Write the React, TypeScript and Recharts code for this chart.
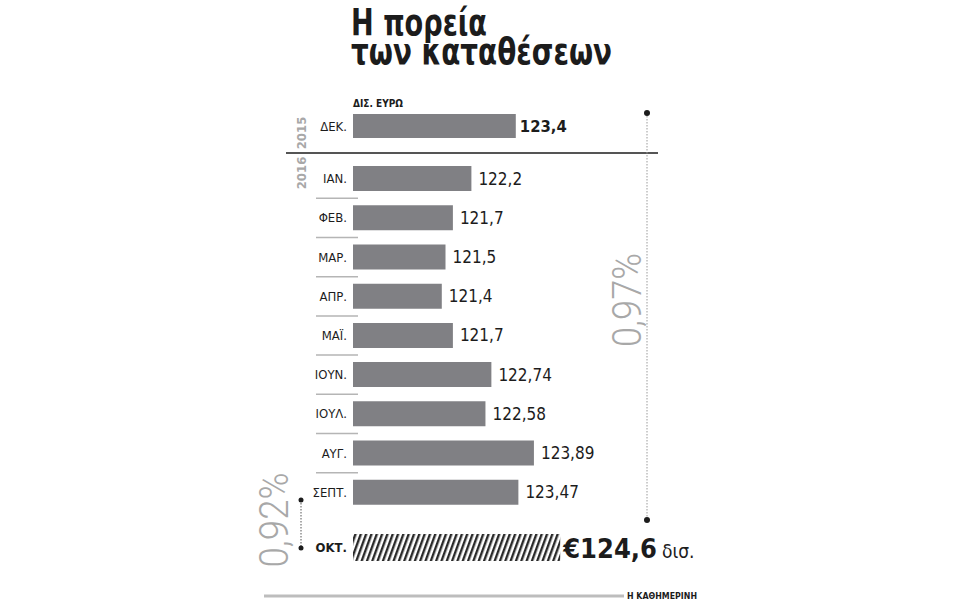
import React from 'react';
import { BarChart, Bar, XAxis, YAxis, LabelList } from 'recharts';

const monthsPrev = ['ΔΕΚ.'];
const valuesPrev = [123.4];
const months2016 = ['ΙΑΝ.', 'ΦΕΒ.', 'ΜΑΡ.', 'ΑΠΡ.', 'ΜΑΪ.', 'ΙΟΥΝ.', 'ΙΟΥΛ.', 'ΑΥΓ.', 'ΣΕΠΤ.'];
const values2016 = [122.2, 121.7, 121.5, 121.4, 121.7, 122.74, 122.58, 123.89, 123.47];
const monthsLatest = ['ΟΚΤ.'];
const valuesLatest = [124.6];

const FONT = "'Liberation Sans Narrow', 'DejaVu Sans Condensed', 'Roboto', sans-serif";
const LIGHT_FONT = "Roboto, 'Open Sans', sans-serif";
const BAR = '#808084';
const INK = '#1c1c1c';
const GREY_TEXT = '#a8a8a8';

const DOMAIN: [number, number] = [119, 126];
const CHART_LEFT = 293;
const AXIS_W = 60;
const PLOT_W = 259;

const fmt = (v: number) => String(v).replace('.', ',');
const pct = (a: number, b: number) => fmt(Number((((b - a) / a) * 100).toFixed(2))) + '%';

const toRows = (months: string[], values: number[]) =>
  months.map((month, i) => ({ month, value: values[i] }));

function MonthTick(props: any) {
  const { x, y, payload, index, bandHalf, count, bold, separators } = props;
  const lx1 = 316 - CHART_LEFT;
  const lx2 = 358 - CHART_LEFT;
  const last = index === count - 1;
  return (
    <g>
      <text
        x={x}
        y={y}
        textAnchor="end"
        dominantBaseline="central"
        fontFamily={FONT}
        fontSize={13}
        fontWeight={bold ? 700 : 400}
        fill={INK}
      >
        {payload.value}
      </text>
      {separators && !last && (
        <line x1={lx1} x2={lx2} y1={y + bandHalf} y2={y + bandHalf} stroke="#b5b5b5" strokeWidth={1.5} />
      )}
      {separators && last && (
        <line x1={lx1} x2={lx2} y1={y + bandHalf + 2} y2={y + bandHalf + 2} stroke={INK} strokeWidth={3} />
      )}
    </g>
  );
}

function ValueLabel(props: any) {
  const { x, y, width, height, value, bold } = props;
  return (
    <text
      x={x + width + (bold ? 4 : 7)}
      y={y + height / 2}
      dominantBaseline="central"
      fontFamily={FONT}
      fontSize={bold ? 16.5 : 17}
      fontWeight={bold ? 700 : 400}
      fill={INK}
    >
      {fmt(value)}
    </text>
  );
}

// the October figure: "€124,6" big and bold, then a smaller "δισ."
function BigLabel(props: any) {
  const { x, y, width, height, value } = props;
  return (
    <text x={x + width + 3} y={y + height / 2 + 10} fontFamily={FONT} fill={INK}>
      <tspan fontSize={27} fontWeight={700}>
        €{fmt(value)}
      </tspan>
      <tspan dx={5} fontSize={19}>
        δισ.
      </tspan>
    </text>
  );
}

function RowChart({
  months,
  values,
  top,
  height,
  barSize,
  fill,
  bold = false,
  separators = false,
  big = false,
}: {
  months: string[];
  values: number[];
  top: number;
  height: number;
  barSize: number;
  fill: string;
  bold?: boolean;
  separators?: boolean;
  big?: boolean;
}) {
  const data = toRows(months, values);
  const bandHalf = height / months.length / 2;
  return (
    <div style={{ position: 'absolute', left: CHART_LEFT, top }}>
      <BarChart
        width={AXIS_W + PLOT_W + 160}
        height={height}
        data={data}
        layout="vertical"
        margin={{ top: 0, right: 160, bottom: 0, left: 0 }}
        barCategoryGap={0}
      >
        <defs>
          <pattern id="hatch" width="5" height="10" patternUnits="userSpaceOnUse" patternTransform="rotate(20)">
            <rect width="5" height="10" fill="#ffffff" />
            <rect width="2.4" height="10" fill="#2a2a2a" />
          </pattern>
        </defs>
        <XAxis type="number" dataKey="value" domain={DOMAIN} hide allowDataOverflow />
        <YAxis
          type="category"
          dataKey="month"
          width={AXIS_W}
          axisLine={false}
          tickLine={false}
          tickSize={6}
          tickMargin={0}
          interval={0}
          tick={(p: any) => (
            <MonthTick {...p} bandHalf={bandHalf} count={months.length} bold={big} separators={separators} />
          )}
        />
        <Bar dataKey="value" fill={fill} barSize={barSize} isAnimationActive={false}>
          <LabelList
            dataKey="value"
            content={(p: any) => (big ? <BigLabel {...p} /> : <ValueLabel {...p} bold={bold} />)}
          />
        </Bar>
      </BarChart>
    </div>
  );
}

function Decorations() {
  const latest = valuesLatest[0];
  return (
    <svg
      width={960}
      height={600}
      style={{ position: 'absolute', left: 0, top: 0, pointerEvents: 'none' }}
      fontFamily={FONT}
    >
      <text x={351} y={35} fontSize={38} fontWeight={700} fill={INK} textLength={136} lengthAdjust="spacingAndGlyphs">
        Η πορεία
      </text>
      <text x={351} y={64} fontSize={38} fontWeight={700} fill={INK} textLength={261} lengthAdjust="spacingAndGlyphs">
        των καταθέσεων
      </text>
      <text x={353} y={107} fontSize={10} fontWeight={700} fill={INK} textLength={50} lengthAdjust="spacingAndGlyphs">
        ΔΙΣ. ΕΥΡΩ
      </text>

      <text transform="translate(306,133) rotate(-90)" textAnchor="middle" fontSize={13} fontWeight={700} fill={GREY_TEXT}>
        2015
      </text>
      <text transform="translate(306,173) rotate(-90)" textAnchor="middle" fontSize={13} fontWeight={700} fill={GREY_TEXT}>
        2016
      </text>
      <line x1={286} x2={658} y1={153} y2={153} stroke={INK} strokeWidth={1.5} />

      <line x1={647} x2={647} y1={113} y2={520} stroke="#9a9a9a" strokeWidth={1} strokeDasharray="1.5 1.5" />
      <circle cx={647} cy={113} r={3} fill={INK} />
      <circle cx={647} cy={520} r={3} fill={INK} />
      <text
        transform="translate(641,300) rotate(-90)"
        textAnchor="middle"
        fontFamily={LIGHT_FONT}
        fontWeight={300}
        fontSize={40}
        fill={GREY_TEXT}
        textLength={94}
        lengthAdjust="spacingAndGlyphs"
      >
        {pct(valuesPrev[0], latest)}
      </text>

      <line x1={301} x2={301} y1={500} y2={548} stroke="#555" strokeWidth={1} strokeDasharray="1.5 1.5" />
      <circle cx={301} cy={500} r={2.5} fill={INK} />
      <circle cx={301} cy={548} r={2.5} fill={INK} />
      <text
        transform="translate(288,520) rotate(-90)"
        textAnchor="middle"
        fontFamily={LIGHT_FONT}
        fontWeight={300}
        fontSize={40}
        fill={GREY_TEXT}
        textLength={95}
        lengthAdjust="spacingAndGlyphs"
      >
        {pct(values2016[values2016.length - 1], latest)}
      </text>

      <line x1={264} x2={624} y1={596} y2={596} stroke="#bdbdbd" strokeWidth={3} />
      <text x={627} y={598.5} fontSize={9} fontWeight={700} fill={INK} textLength={70} lengthAdjust="spacingAndGlyphs">
        Η ΚΑΘΗΜΕΡΙΝΗ
      </text>
    </svg>
  );
}

export default function App() {
  return (
    <div
      style={{
        position: 'absolute',
        left: 0,
        top: 0,
        width: 960,
        height: 600,
        background: '#ffffff',
        overflow: 'hidden',
      }}
    >
      <Decorations />
      <RowChart months={monthsPrev} values={valuesPrev} top={106} height={40} barSize={24} fill={BAR} bold />
      <RowChart months={months2016} values={values2016} top={159} height={353} barSize={25} fill={BAR} separators />
      <RowChart months={monthsLatest} values={valuesLatest} top={527} height={40} barSize={27} fill="url(#hatch)" big />
    </div>
  );
}
